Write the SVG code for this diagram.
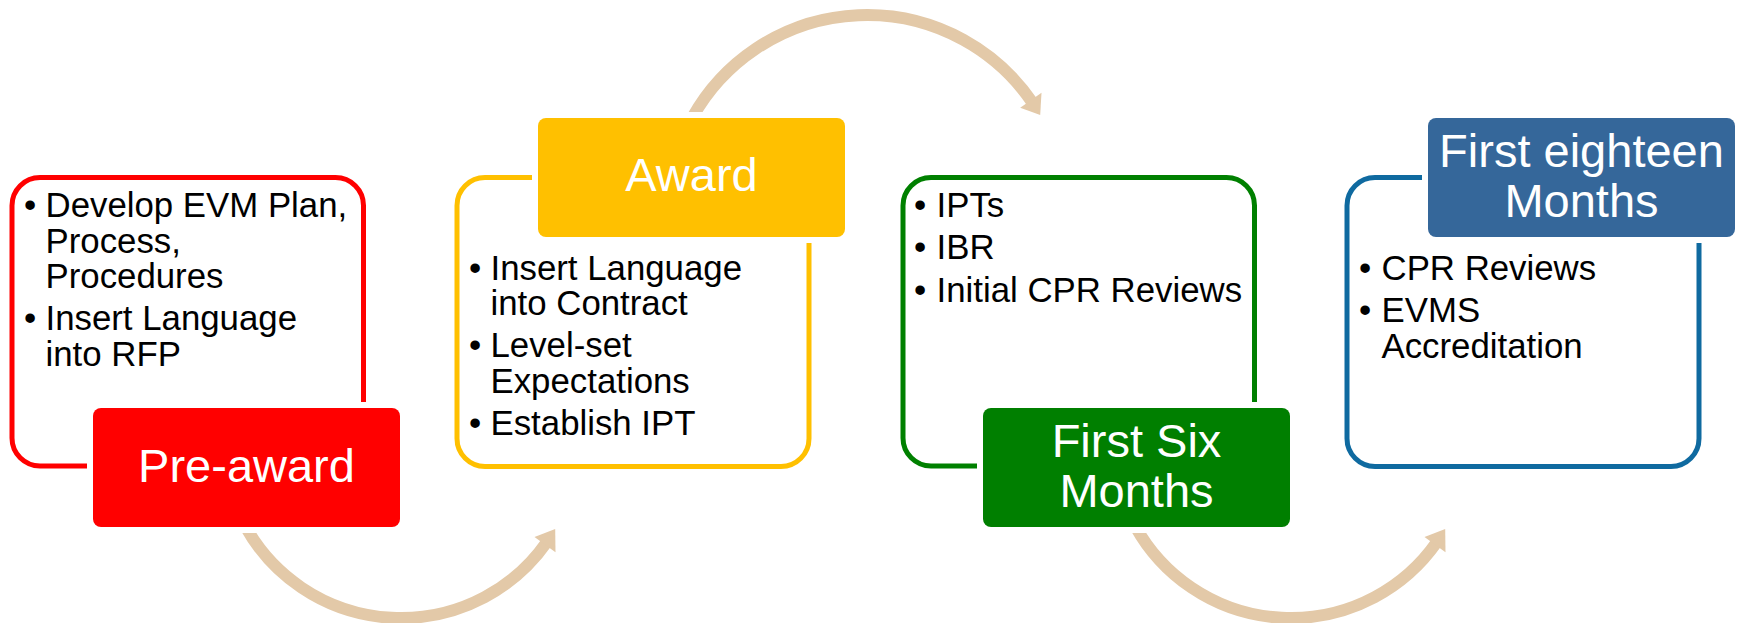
<svg xmlns="http://www.w3.org/2000/svg" width="1743" height="623" viewBox="0 0 1743 623">
  <style>
    .frame { fill: #ffffff; stroke-width: 5; }
    .tab { stroke: #ffffff; stroke-width: 12; paint-order: stroke; }
    .item { font-family: "Liberation Sans", Arial, sans-serif; font-size: 34.8px; fill: #000000; }
    .dot { text-anchor: middle; }
    .title { font-family: "Liberation Sans", Arial, sans-serif; font-size: 47px; fill: #ffffff; text-anchor: middle; }
    .flow { fill: none; stroke: #E3C9A8; stroke-width: 12; }
    .head { fill: #E3C9A8; }
  </style>
  <rect width="1743" height="623" fill="#ffffff"/>

  <!-- curved flow arrows between the stages -->
  <g id="connectors">
    <path class="flow" d="M 245.3 526.3 A 178 178 0 0 0 546.8 542.1"/>
    <polygon class="head" points="534.5,537 555.5,552.3 555.2,529"/>
    <path class="flow" d="M 692.1 118 A 200 200 0 0 1 1032.8 103.2"/>
    <polygon class="head" points="1020.2,107.7 1041.5,92.8 1040.2,115"/>
    <path class="flow" d="M 1135.3 526.3 A 178 178 0 0 0 1436.8 542.1"/>
    <polygon class="head" points="1424.5,537 1445.5,552.3 1445.2,529"/>
  </g>

  <!-- stage 1 -->
  <g id="pre-award">
    <rect class="frame" x="12" y="177.5" width="351.5" height="288.5" rx="28" stroke="#FF0000"/>
    <text class="item dot" x="30" y="217">•</text>
    <text class="item" x="45.5" y="217">Develop EVM Plan,</text>
    <text class="item" x="45.5" y="252.5">Process,</text>
    <text class="item" x="45.5" y="288">Procedures</text>
    <text class="item dot" x="30" y="330">•</text>
    <text class="item" x="45.5" y="330">Insert Language</text>
    <text class="item" x="45.5" y="366">into RFP</text>
    <rect class="tab" x="93" y="408" width="307" height="119" rx="8" fill="#FF0000"/>
    <text class="title" x="246.5" y="482">Pre-award</text>
  </g>

  <!-- stage 2 -->
  <g id="award">
    <rect class="frame" x="457" y="177.5" width="352" height="289" rx="28" stroke="#FFC000"/>
    <text class="item dot" x="475" y="280">•</text>
    <text class="item" x="490.5" y="280">Insert Language</text>
    <text class="item" x="490.5" y="315">into Contract</text>
    <text class="item dot" x="475" y="357">•</text>
    <text class="item" x="490.5" y="357">Level-set</text>
    <text class="item" x="490.5" y="393">Expectations</text>
    <text class="item dot" x="475" y="435">•</text>
    <text class="item" x="490.5" y="435">Establish IPT</text>
    <rect class="tab" x="538" y="118" width="307" height="119" rx="8" fill="#FFC000"/>
    <text class="title" x="691.5" y="191">Award</text>
  </g>

  <!-- stage 3 -->
  <g id="first-six-months">
    <rect class="frame" x="903" y="177.5" width="351.5" height="288.5" rx="28" stroke="#008000"/>
    <text class="item dot" x="920" y="217">•</text>
    <text class="item" x="936.5" y="217">IPTs</text>
    <text class="item dot" x="920" y="259">•</text>
    <text class="item" x="936.5" y="259">IBR</text>
    <text class="item dot" x="920" y="302">•</text>
    <text class="item" x="936.5" y="302">Initial CPR Reviews</text>
    <rect class="tab" x="983" y="408" width="307" height="119" rx="8" fill="#007F00"/>
    <text class="title" x="1136.5" y="457">First Six</text>
    <text class="title" x="1136.5" y="507">Months</text>
  </g>

  <!-- stage 4 -->
  <g id="first-eighteen-months">
    <rect class="frame" x="1347" y="177.5" width="352" height="289" rx="28" stroke="#0F6AA0"/>
    <text class="item dot" x="1365" y="279.5">•</text>
    <text class="item" x="1381.5" y="279.5">CPR Reviews</text>
    <text class="item dot" x="1365" y="322">•</text>
    <text class="item" x="1381.5" y="322">EVMS</text>
    <text class="item" x="1381.5" y="357.5">Accreditation</text>
    <rect class="tab" x="1428" y="118" width="307" height="119" rx="8" fill="#35679A"/>
    <text class="title" x="1581.5" y="167">First eighteen</text>
    <text class="title" x="1581.5" y="217">Months</text>
  </g>
</svg>
